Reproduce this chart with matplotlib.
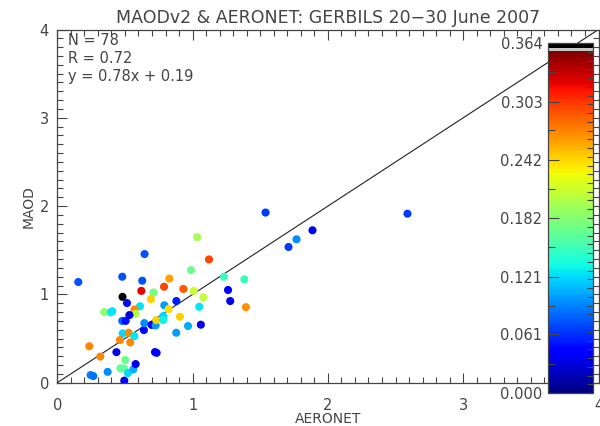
import numpy as np
import matplotlib
matplotlib.use('Agg')
import matplotlib.pyplot as plt
from matplotlib.colors import ListedColormap
from matplotlib.ticker import MultipleLocator, FixedLocator

plt.rcParams['font.family'] = 'DejaVu Sans'

# AERONET AOD (x), MAOD (y) and colour value for each collocation
aeronet = [0.155, 0.480, 0.645, 0.628, 0.515, 0.621, 0.711, 0.789, 0.828, 0.692,
           0.611, 0.571, 0.579, 0.533, 0.347, 0.394, 0.406, 0.480, 0.505, 0.483,
           0.527, 0.463, 0.539, 0.569, 0.640, 0.643, 0.697, 0.727, 0.731, 0.783,
           0.783, 0.791, 0.823, 0.880, 0.906, 0.879, 0.966, 0.932, 0.988, 1.034,
           1.121, 1.008, 1.079, 1.049, 1.061, 1.232, 1.262, 1.278, 1.382, 1.394,
           1.539, 0.236, 0.318, 0.437, 0.722, 0.734, 0.502, 0.466, 0.493, 0.522,
           0.562, 0.579, 0.495, 0.372, 0.246, 0.266, 1.886, 1.768, 1.709, 2.588,
           0.482]
maod = [1.140, 1.200, 1.457, 1.155, 0.902, 1.040, 1.022, 1.087, 1.180, 0.947,
        0.866, 0.830, 0.780, 0.766, 0.800, 0.796, 0.810, 0.700, 0.700, 0.558,
        0.566, 0.483, 0.457, 0.528, 0.596, 0.675, 0.655, 0.649, 0.709, 0.755,
        0.709, 0.877, 0.834, 0.925, 0.747, 0.566, 0.642, 1.062, 1.275, 1.648,
        1.396, 1.040, 0.966, 0.860, 0.657, 1.200, 1.050, 0.925, 1.171, 0.856,
        1.927, 0.413, 0.296, 0.346, 0.347, 0.338, 0.257, 0.162, 0.162, 0.109,
        0.151, 0.211, 0.023, 0.123, 0.087, 0.075, 1.726, 1.624, 1.537, 1.914,
        0.972]
value = [0.073, 0.073, 0.073, 0.073, 0.050, 0.324, 0.175, 0.298, 0.262, 0.245,
         0.125, 0.272, 0.200, 0.030, 0.185, 0.130, 0.125, 0.080, 0.050, 0.120,
         0.272, 0.272, 0.272, 0.125, 0.045, 0.095, 0.035, 0.100, 0.245, 0.120,
         0.130, 0.100, 0.240, 0.055, 0.245, 0.100, 0.105, 0.290, 0.170, 0.195,
         0.298, 0.210, 0.205, 0.125, 0.035, 0.150, 0.040, 0.035, 0.150, 0.268,
         0.065, 0.272, 0.272, 0.035, 0.040, 0.040, 0.170, 0.165, 0.165, 0.120,
         0.105, 0.035, 0.035, 0.095, 0.090, 0.085, 0.040, 0.095, 0.065, 0.065,
         0.364]

cbar_ticks = [0.000, 0.061, 0.121, 0.182, 0.242, 0.303, 0.364]
stats_lines = ['N = 78', 'R = 0.72', 'y = 0.78x + 0.19']

grey = '#444444'

# jet with a thin grey + black band at the top (IDL style table)
jet = plt.get_cmap('jet')(np.linspace(0, 1, 250))
top = np.array([[0.78, 0.78, 0.78, 1]] * 2 + [[0, 0, 0, 1]] * 4)
cmap = ListedColormap(np.vstack([jet, top]))

fig = plt.figure(figsize=(6, 4.26), dpi=100)
W, H = 600.0, 426.0
ax = fig.add_axes([57.3 / W, 1 - 382.7 / H, (598.5 - 57.3) / W, (382.7 - 29.5) / H])

sc = ax.scatter(aeronet, maod, c=value, cmap=cmap, vmin=0, vmax=0.364,
                s=34, linewidths=0, zorder=3)
ax.plot([0, 4], [0, 4], color='#222222', lw=0.8, zorder=2)

ax.set_xlim(0, 4)
ax.set_ylim(0, 4)
ax.xaxis.set_major_locator(MultipleLocator(1))
ax.yaxis.set_major_locator(MultipleLocator(1))
ax.xaxis.set_minor_locator(MultipleLocator(0.1))
ax.yaxis.set_minor_locator(MultipleLocator(0.1))
ax.tick_params(which='both', direction='in', top=True, right=True,
               color=grey, width=0.8, labelcolor=grey, labelsize=10.5)
ax.tick_params(which='major', length=7)
ax.tick_params(which='minor', length=4)
ax.tick_params(axis='x', pad=11)
ax.tick_params(axis='y', pad=6)
for sp in ax.spines.values():
    sp.set_color(grey)
    sp.set_linewidth(0.9)

ax.set_xlabel('AERONET', color=grey, fontsize=10, labelpad=-1)
ax.set_ylabel('MAOD', color=grey, fontsize=10, labelpad=3)
ax.set_title('MAODv2 & AERONET: GERBILS 20\u221230 June 2007',
             color=grey, fontsize=12.5, pad=5)

for i, line in enumerate(stats_lines):
    ax.text(0.02, 0.970 - i * 0.052, line, transform=ax.transAxes,
            ha='left', va='center', color=grey, fontsize=10.5)

# colour bar drawn inside the plot area
cax = fig.add_axes([548 / W, 1 - 393 / H, 45 / W, 350 / H], zorder=5)
cb = fig.colorbar(sc, cax=cax)
cb.set_ticks(cbar_ticks)
cb.set_ticklabels(['%.3f' % t for t in cbar_ticks])
cb.outline.set_edgecolor(grey)
cb.outline.set_linewidth(0.9)
cax.yaxis.set_ticks_position('both')
cax.yaxis.set_label_position('left')
cax.tick_params(which='major', direction='in', length=8, width=0.8, color=grey,
                labelleft=True, labelright=False, labelcolor=grey,
                labelsize=10.5, pad=4)
cax.yaxis.set_minor_locator(FixedLocator(np.arange(0.0303, 0.364, 0.0607)))
cax.tick_params(which='minor', direction='in', length=5, width=0.8, color=grey,
                left=True, right=False)
# extra fine ticks on the right edge of the bar
rax = cax.twinx()
rax.set_ylim(0, 0.364)
rax.yaxis.set_major_locator(FixedLocator(np.arange(0.0, 0.365, 0.0091)))
rax.tick_params(direction='in', length=4, width=0.8, color=grey, labelright=False)
for sp in rax.spines.values():
    sp.set_visible(False)

fig.savefig('out.png', dpi=100)
